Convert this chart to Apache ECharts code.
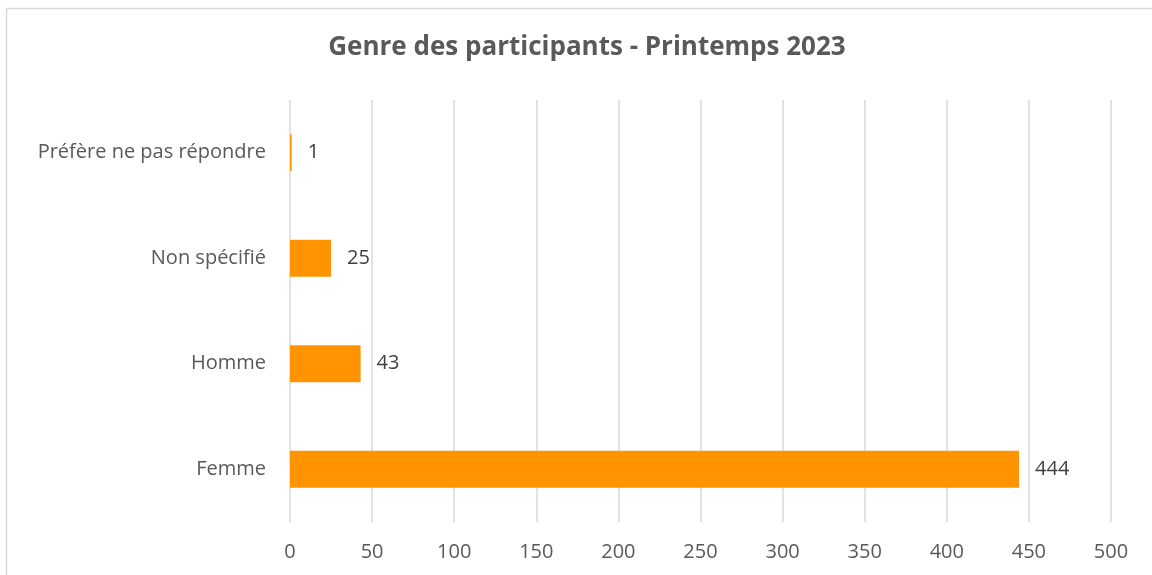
<!DOCTYPE html>
<html>
<head>
<meta charset="utf-8">
<script src="https://cdn.jsdelivr.net/npm/echarts@6/dist/echarts.min.js"></script>
<style>
  html, body { margin: 0; padding: 0; background: #fff; }
  #chart { width: 1152px; height: 575px; }
</style>
</head>
<body>
<div id="chart"></div>
<script>
// données
var categories = ['Préfère ne pas répondre', 'Non spécifié', 'Homme', 'Femme'];
var counts = [1, 25, 43, 444];
var titleText = 'Genre des participants - Printemps 2023';

var myChart = echarts.init(document.getElementById('chart'));
var font = 'Open Sans';

var option = {
    animation: false,
    backgroundColor: '#fff',
    title: {
        text: titleText,
        left: 582,
        top: 30,
        textAlign: 'center',
        textStyle: {
            fontFamily: font,
            fontSize: 26,
            fontWeight: 'bold',
            color: '#595959'
        }
    },
    graphic: [{
        type: 'rect',
        shape: { x: 6.5, y: 8.5, width: 1200, height: 700 },
        style: { fill: 'none', stroke: '#d9d9d9', lineWidth: 1.5 },
        silent: true
    }],
    grid: {
        left: 290,
        right: 41,
        top: 100,
        bottom: 53,
        containLabel: false
    },
    xAxis: {
        type: 'value',
        min: 0,
        max: 500,
        interval: 50,
        axisLine: { show: false },
        axisTick: { show: false },
        axisLabel: {
            fontFamily: font,
            fontSize: 20,
            color: '#595959',
            margin: 20
        },
        splitLine: { lineStyle: { color: '#d9d9d9', width: 1.5 } }
    },
    yAxis: {
        type: 'category',
        inverse: true,
        data: categories,
        axisLine: { show: false },
        axisTick: { show: false },
        axisLabel: {
            fontFamily: font,
            fontSize: 20,
            color: '#595959',
            margin: 24
        }
    },
    series: [{
        type: 'bar',
        data: counts,
        barWidth: '35%',
        itemStyle: { color: '#ff9300' },
        label: {
            show: true,
            position: 'right',
            distance: 16,
            fontFamily: font,
            fontSize: 20,
            color: '#404040'
        }
    }]
};

myChart.setOption(option);
</script>
</body>
</html>
